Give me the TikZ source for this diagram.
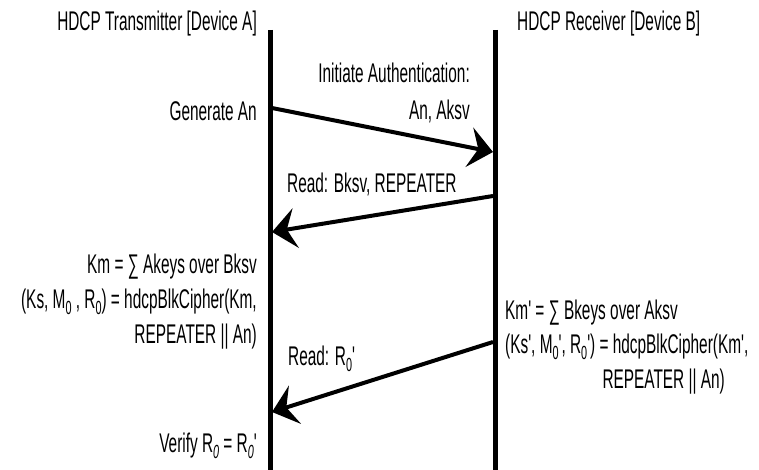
\documentclass[tikz,border=0pt]{standalone}
\usepackage{fontspec}
\newfontfamily\narrow{Liberation Sans}[FakeStretch=0.57]
\usetikzlibrary{arrows.meta}
\newcommand{\sbz}{\raisebox{-6pt}{\fontsize{19}{19}\selectfont 0}}
\newcommand{\sbzi}{\raisebox{-6pt}{\fontsize{19}{19}\selectfont\itshape 0}}
\begin{document}
\begin{tikzpicture}[x=1pt,y=-1pt,
  txt/.style={inner sep=0pt, font=\narrow\fontsize{27}{35}\selectfont},
  lifeline/.style={line width=5pt},
  msg/.style={line width=4pt, -{Stealth[length=24pt,width=40pt,inset=9pt]}}]
\useasboundingbox (0,0) rectangle (759,470);
% lifelines
\coordinate (Atop) at (270,30);
\coordinate (Abot) at (270,470);
\coordinate (Btop) at (495,30);
\coordinate (Bbot) at (495,470);
\draw[lifeline] (Atop) -- (Abot);
\draw[lifeline] (Btop) -- (Bbot);
% titles
\node[txt, anchor=base east] (tA) at (257,31) {HDCP Transmitter [Device A]};
\node[txt, anchor=base west] (tB) at (517,31) {HDCP Receiver [Device B]};
% message 1
\coordinate (m1s) at (272,108);
\coordinate (m1e) at (493,152);
\draw[msg] (m1s) -- (m1e);
\node[txt, anchor=base east] (gen) at (257,121) {Generate An};
\node[txt, anchor=base east] (ini1) at (470,83) {Initiate Authentication:};
\node[txt, anchor=base east] (ini2) at (470,120) {An, Aksv};
% message 2
\coordinate (m2s) at (493,196);
\coordinate (m2e) at (272,232);
\draw[msg] (m2s) -- (m2e);
\node[txt, anchor=base west] (rd1) at (287,193) {Read: Bksv, REPEATER};
% left computation
\node[txt, anchor=base east] (l1) at (257,273) {Km = ∑ Akeys over Bksv};
\node[txt, anchor=base east] (l2) at (257,308) {(Ks, M\sbz{} , R\sbz) = hdcpBlkCipher(Km,};
\node[txt, anchor=base east] (l3) at (257,343) {REPEATER || An)};
% right computation
\node[txt, anchor=base west] (r1) at (505,319) {Km' = ∑ Bkeys over Aksv};
\node[txt, anchor=base west] (r2) at (505,353) {(Ks', M\sbz', R\sbz') = hdcpBlkCipher(Km',};
\node[txt, anchor=base east] (r3) at (725,388) {REPEATER || An)};
% message 3
\coordinate (m3s) at (493,342);
\coordinate (m3e) at (272,412);
\draw[msg] (m3s) -- (m3e);
\node[txt, anchor=base west] (rd2) at (288,365) {Read: R\sbz'};
% verify
\node[txt, anchor=base east] (ver) at (257,452) {Verify R\sbzi{} = R\sbzi'};
\end{tikzpicture}
\end{document}
